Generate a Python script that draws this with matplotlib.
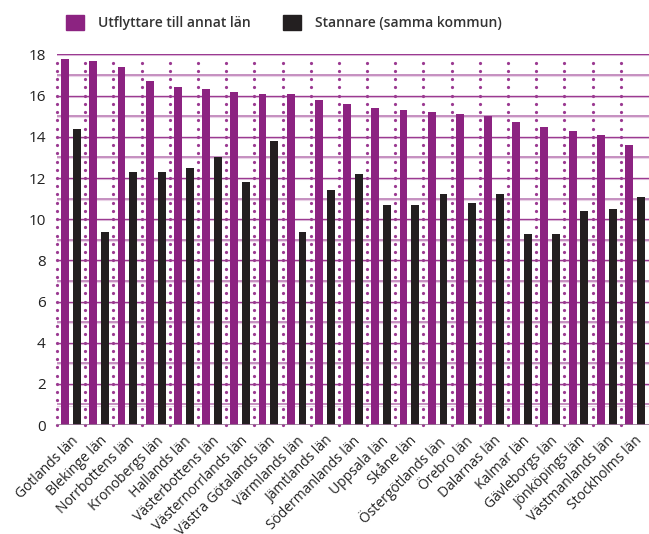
import matplotlib
matplotlib.use("Agg")
import matplotlib.pyplot as plt
import numpy as np
from matplotlib.patches import Patch

plt.rcParams['font.family'] = ['Open Sans', 'DejaVu Sans']

# Data
lan = ['Gotlands län', 'Blekinge län', 'Norrbottens län', 'Kronobergs län',
       'Hallands län', 'Västerbottens län', 'Västernorrlands län',
       'Västra Götalands län', 'Värmlands län', 'Jämtlands län',
       'Södermanlands län', 'Uppsala län', 'Skåne län', 'Östergötlands län',
       'Örebro län', 'Dalarnas län', 'Kalmar län', 'Gävleborgs län',
       'Jönköpings län', 'Västmanlands län', 'Stockholms län']
utflyttare = [17.8, 17.7, 17.4, 16.7, 16.4, 16.3, 16.2, 16.1, 16.1, 15.8,
              15.6, 15.4, 15.3, 15.2, 15.1, 15.0, 14.7, 14.5, 14.3, 14.1, 13.6]
stannare = [14.4, 9.4, 12.3, 12.3, 12.5, 13.0, 11.8, 13.8, 9.4, 11.4,
            12.2, 10.7, 10.7, 11.2, 10.8, 11.2, 9.3, 9.3, 10.4, 10.5, 11.1]
yticks = [0, 2, 4, 6, 8, 10, 12, 14, 16, 18]

purple = '#8c2381'
black = '#231f20'

fig = plt.figure(figsize=(6.49, 5.34), dpi=100)
ax = fig.add_axes([0.0878, 0.204, 0.9122, 0.694])

x = np.arange(len(lan))

# horizontal grid, one line per unit
for v in range(0, 19):
    if v % 2 == 0:
        ax.axhline(v, color='#9b3a91', lw=1.0, zorder=1)
    else:
        ax.axhline(v, color='#c58fc0', lw=1.4, zorder=1)
    ax.axhline(v - 0.05, color='#ead3e7', lw=0.8, zorder=0.9)

# dotted separators between groups
dots = np.arange(0, 17.8, 0.4)
for b in np.arange(-0.5, len(lan) - 0.5, 1.0):
    ax.plot(np.full(len(dots), b), dots, ls='none', marker='o', ms=2.3,
            mec='none', mfc='#9b3a91', zorder=1.5, clip_on=False)

ax.bar(x - 0.21, utflyttare, width=0.28, color=purple, zorder=3)
ax.bar(x + 0.21, stannare, width=0.28, color=black, zorder=3)

ax.axhline(0, color='#9a7a98', lw=1.2, zorder=4)

ax.set_xlim(-0.5, len(lan) - 0.5)
ax.set_ylim(0, 18)
for s in ax.spines.values():
    s.set_visible(False)

ax.set_yticks(yticks)
ax.set_yticklabels([str(t) for t in yticks], fontsize=11, color='#222222')
ax.set_xticks(x)
ax.set_xticklabels(lan, rotation=45, ha='right', rotation_mode='anchor',
                   fontsize=10, color='#222222')
ax.tick_params(axis='y', length=0, pad=8)
ax.tick_params(axis='x', length=0, pad=6)

handles = [Patch(color=purple, label='Utflyttare till annat län'),
           Patch(color=black, label='Stannare (samma kommun)')]
fig.legend(handles=handles, loc='upper left', bbox_to_anchor=(0.083, 0.995),
           ncol=2, frameon=False, handlelength=1.3, handleheight=1.3,
           handletextpad=1.0, columnspacing=2.3,
           prop={'size': 10, 'weight': 'semibold'}, labelcolor='#333333')

fig.savefig('out.png', dpi=100)
